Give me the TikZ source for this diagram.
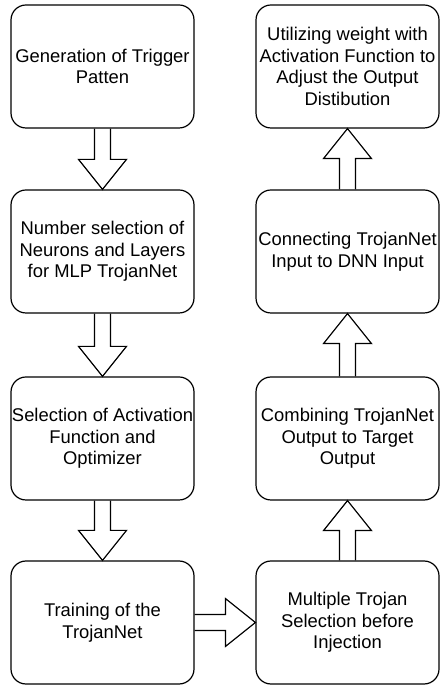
\documentclass[tikz,border=0pt]{standalone}
\usepackage{fontspec}
\setmainfont{Liberation Sans}
\usetikzlibrary{positioning,calc}
\tikzset{
stepbox/.style={draw, line width=1.2pt, rounded corners=15pt,
  minimum width=183pt, minimum height=123pt, inner sep=0pt,
  align=center, font=\fontsize{18.4}{21.7}\selectfont},
fatline/.style={line width=1.2pt, line join=miter}}
\newcommand{\fatarrow}[2]{%
  \coordinate (hb) at ($(#2)!30pt!(#1)$);
  \draw[fatline] ($(#1)!8pt!90:(#2)$) -- ($(hb)!8pt!90:(#2)$)
    -- ($(hb)!24pt!90:(#2)$) -- (#2) -- ($(hb)!24pt!-90:(#2)$)
    -- ($(hb)!8pt!-90:(#2)$) -- ($(#1)!8pt!-90:(#2)$);}

\begin{document}
\begin{tikzpicture}[x=1pt,y=1pt]
        \useasboundingbox (0,0) rectangle (440,685);
        \node[stepbox] (gen) at (102.5,618.5) {Generation of Trigger\\Patten};
        \node[stepbox] (neur) at (102.5,433.5) {Number selection of\\Neurons and Layers\\for MLP TrojanNet};
        \node[stepbox] (act) at (102.5,246.5) {Selection of Activation\\Function and\\Optimizer};
        \node[stepbox] (train) at (102.5,62.5) {Training of the\\TrojanNet};
        \node[stepbox] (multi) at (347.5,62.5) {Multiple Trojan\\Selection before\\Injection};
        \node[stepbox] (comb) at (347.5,246.5) {Combining TrojanNet\\Output to Target\\Output};
        \node[stepbox] (conn) at (347.5,433.5) {Connecting TrojanNet\\Input to DNN Input};
        \node[stepbox] (util) at (347.5,618.5) {Utilizing weight with\\Activation Function to\\Adjust the Output\\Distibution};
        \fatarrow{gen.south}{neur.north}
        \fatarrow{neur.south}{act.north}
        \fatarrow{act.south}{train.north}
        \fatarrow{train.east}{multi.west}
        \fatarrow{multi.north}{comb.south}
        \fatarrow{comb.north}{conn.south}
        \fatarrow{conn.north}{util.south}
    \end{tikzpicture}
\end{document}
